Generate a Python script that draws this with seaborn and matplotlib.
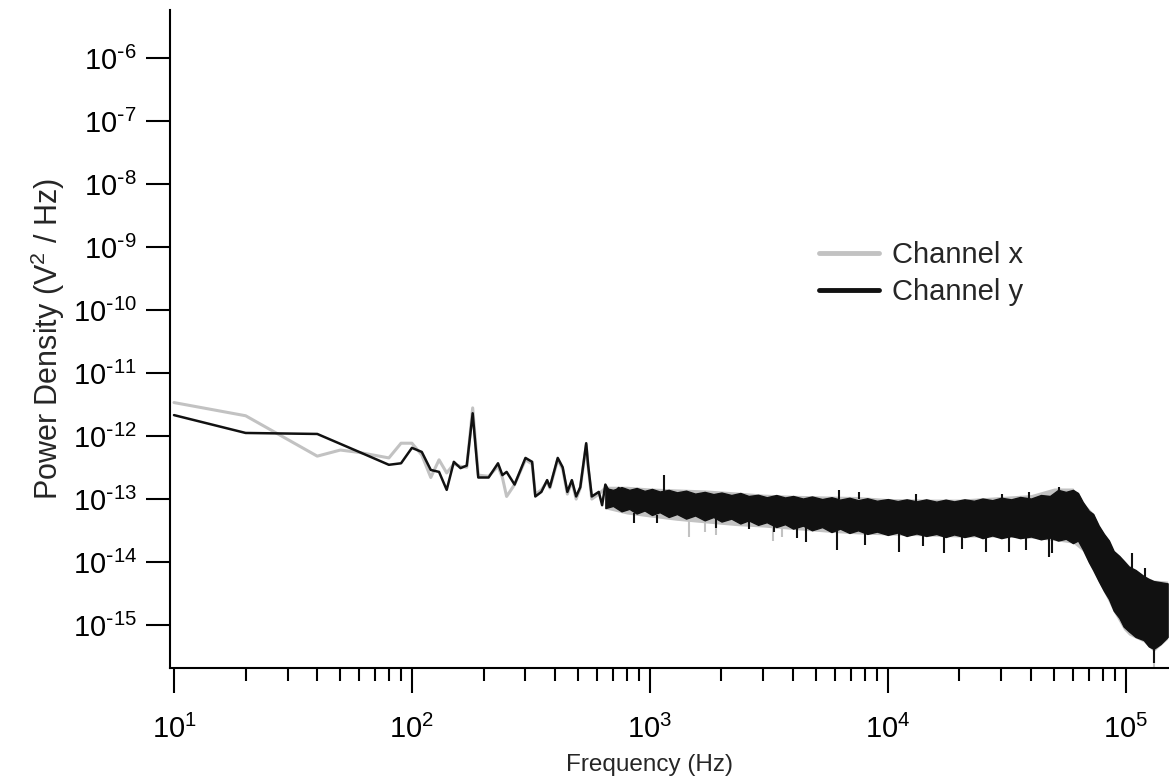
import matplotlib
matplotlib.use("Agg")
import matplotlib.pyplot as plt
import matplotlib.ticker as mticker
import numpy as np
import pandas as pd
import seaborn as sns

# low frequency part of the spectra (Hz, V^2/Hz)
freq_x_low = [10, 20, 40, 50, 60, 80, 90, 100, 110, 120, 130, 140, 150, 160, 170, 180, 190,
              210, 230, 240, 250, 270, 300, 320, 330, 350, 370, 380, 410, 430, 450, 470,
              490, 510, 540, 550, 570, 610, 650, 690, 740]
psd_x_low = [3.4e-12, 2.1e-12, 4.8e-13, 6.0e-13, 5.5e-13, 4.5e-13, 7.7e-13, 7.7e-13, 5.0e-13,
             2.2e-13, 4.2e-13, 2.6e-13, 3.6e-13, 3.3e-13, 3.2e-13, 2.8e-12, 2.4e-13,
             2.3e-13, 3.3e-13, 2.2e-13, 1.1e-13, 1.7e-13, 4.2e-13, 3.6e-13, 1.2e-13, 1.4e-13,
             1.9e-13, 1.5e-13, 4.2e-13, 3.0e-13, 1.2e-13, 1.9e-13, 1.0e-13, 1.5e-13, 7.2e-13,
             3.3e-13, 1.0e-13, 1.2e-13, 1.5e-13, 1.0e-13, 1.4e-13]

freq_y_low = [10, 20, 40, 60, 80, 90, 100, 110, 120, 130, 140, 150, 160, 170, 180, 190, 210,
              230, 240, 250, 270, 300, 320, 330, 350, 370, 380, 410, 430, 450, 470, 490,
              510, 540, 550, 570, 610, 630, 650, 690, 740]
psd_y_low = [2.15e-12, 1.12e-12, 1.08e-12, 5.6e-13, 3.5e-13, 3.7e-13, 6.5e-13, 5.6e-13,
             2.9e-13, 2.7e-13, 1.4e-13, 3.9e-13, 3.1e-13, 3.4e-13, 2.3e-12, 2.2e-13, 2.2e-13,
             3.7e-13, 2.4e-13, 2.7e-13, 1.7e-13, 4.5e-13, 3.9e-13, 1.1e-13, 1.3e-13, 2.0e-13,
             1.55e-13, 4.5e-13, 3.2e-13, 1.3e-13, 2.0e-13, 1.1e-13, 1.55e-13, 7.7e-13, 3.5e-13,
             1.1e-13, 1.3e-13, 8.0e-14, 1.7e-13, 1.1e-13, 1.5e-13]

# dense high frequency part of channel y: upper / lower edge of the noisy trace
band_y_freq = [650, 700, 760, 820, 880, 950, 1020, 1100, 1200, 1300, 1420, 1550, 1700, 1850,
               2000, 2200, 2400, 2600, 2850, 3100, 3400, 3700, 4000, 4400, 4800, 5300, 5800,
               6300, 6900, 7500, 8200, 9000, 10000, 11000, 12000, 13200, 14500, 16000, 17500,
               19000, 21000, 23000, 25000, 27500, 30000, 33000, 36000, 40000, 44000, 48000,
               52000, 56000, 60000, 63000, 66000, 70000, 73000, 77000, 81000, 85000, 89000,
               94000, 98000, 103000, 110000, 119000, 125000, 131000, 140000, 150000]
band_y_hi = [1.5e-13, 1.4e-13, 1.55e-13, 1.4e-13, 1.5e-13, 1.35e-13, 1.45e-13, 1.32e-13,
             1.4e-13, 1.28e-13, 1.36e-13, 1.22e-13, 1.3e-13, 1.2e-13, 1.27e-13, 1.16e-13,
             1.25e-13, 1.12e-13, 1.17e-13, 1.07e-13, 1.16e-13, 1.06e-13, 1.12e-13, 1.02e-13,
             1.1e-13, 1.0e-13, 1.07e-13, 9.8e-14, 1.05e-13, 9.6e-14, 1.03e-13, 9.4e-14,
             1.0e-13, 9.3e-14, 9.9e-14, 9.2e-14, 9.9e-14, 9.1e-14, 9.8e-14, 9.2e-14,
             9.9e-14, 9.4e-14, 1.02e-13, 9.6e-14, 1.05e-13, 9.9e-14, 1.08e-13, 1.02e-13,
             1.16e-13, 1.12e-13, 1.4e-13, 1.3e-13, 1.4e-13, 1.25e-13, 9.0e-14, 6.5e-14,
             5.8e-14, 3.8e-14, 2.8e-14, 2.2e-14, 1.5e-14, 1.25e-14, 1.05e-14, 8.5e-15,
             7.5e-15, 6.0e-15, 5.4e-15, 5.0e-15, 4.8e-15, 4.6e-15]
band_y_lo = [7.2e-14, 7.8e-14, 6.4e-14, 7.0e-14, 5.9e-14, 6.6e-14, 5.6e-14, 6.2e-14,
             5.2e-14, 5.8e-14, 4.9e-14, 5.5e-14, 4.6e-14, 5.2e-14, 4.4e-14, 4.9e-14,
             4.1e-14, 4.6e-14, 3.9e-14, 4.3e-14, 3.6e-14, 4.0e-14, 3.4e-14, 3.8e-14,
             3.2e-14, 3.6e-14, 3.0e-14, 3.4e-14, 2.9e-14, 3.2e-14, 2.8e-14, 3.05e-14,
             2.7e-14, 2.95e-14, 2.6e-14, 2.85e-14, 2.6e-14, 2.8e-14, 2.5e-14, 2.75e-14,
             2.5e-14, 2.7e-14, 2.4e-14, 2.65e-14, 2.4e-14, 2.6e-14, 2.4e-14, 2.55e-14,
             2.3e-14, 2.45e-14, 2.2e-14, 2.35e-14, 2.0e-14, 2.2e-14, 1.6e-14, 1.0e-14,
             7.5e-15, 5.0e-15, 3.5e-15, 2.6e-15, 1.7e-15, 1.3e-15, 9.5e-16, 8.0e-16,
             6.5e-16, 5.8e-16, 4.6e-16, 4.2e-16, 5.0e-16, 6.5e-16]

# channel x band, mostly hidden under channel y
band_x_freq = [650, 800, 1000, 1300, 1700, 2300, 3000, 4000, 5500, 7500, 10000, 15000, 20000,
               30000, 40000, 50000, 60000, 66000, 73000, 77000, 85000, 89000, 98000, 103000,
               119000, 125000, 131000, 150000]
band_x_hi = [1.6e-13, 1.6e-13, 1.5e-13, 1.45e-13, 1.4e-13, 1.3e-13, 1.2e-13, 1.15e-13,
             1.12e-13, 1.1e-13, 1.02e-13, 1.0e-13, 1.0e-13, 1.1e-13, 1.18e-13, 1.5e-13,
             1.5e-13, 9.0e-14, 6.0e-14, 3.8e-14, 2.2e-14, 1.5e-14, 1.1e-14, 9.0e-15, 6.2e-15,
             5.6e-15, 5.2e-15, 5.0e-15]
band_x_lo = [7.0e-14, 5.8e-14, 5.2e-14, 4.6e-14, 4.2e-14, 3.8e-14, 3.6e-14, 3.3e-14, 3.0e-14,
             2.8e-14, 2.7e-14, 2.6e-14, 2.5e-14, 2.5e-14, 2.4e-14, 2.2e-14, 2.0e-14, 1.5e-14,
             7.0e-15, 4.8e-15, 2.3e-15, 1.6e-15, 8.5e-16, 7.0e-16, 5.4e-16, 4.5e-16, 3.8e-16,
             6.0e-16]

# isolated spikes sticking out of the band (freq, from, to)
spike_y_freq = [857, 1070, 1145, 1900, 2600, 3320, 4150, 4520, 6100, 6230, 7550, 8000, 11100,
                13100, 14000, 17200, 20500, 25800, 30200, 32200, 38000, 39100, 47400, 48900,
                52200, 106000, 121000, 131000]
spike_y_from = [6.0e-14, 5.5e-14, 1.3e-13, 5.0e-14, 4.5e-14, 4.0e-14, 3.6e-14, 3.6e-14,
                3.1e-14, 1.0e-13, 1.0e-13, 3.0e-14, 2.9e-14, 9.0e-14, 2.8e-14, 2.8e-14,
                2.7e-14, 2.7e-14, 1.0e-13, 2.7e-14, 2.6e-14, 1.05e-13, 2.5e-14, 2.5e-14,
                1.3e-13, 8.0e-15, 5.7e-15, 4.2e-16]
spike_y_to = [4.2e-14, 4.2e-14, 2.4e-13, 3.5e-14, 3.3e-14, 3.0e-14, 2.4e-14, 2.1e-14,
              1.55e-14, 1.39e-13, 1.3e-13, 1.9e-14, 1.45e-14, 1.2e-13, 1.8e-14, 1.4e-14,
              1.6e-14, 1.45e-14, 1.2e-13, 1.45e-14, 1.55e-14, 1.3e-13, 1.2e-14, 1.4e-14,
              1.55e-13, 1.4e-14, 8.0e-15, 2.5e-16]
spike_x_freq = [1460, 1700, 1890, 3300, 3600, 131000]
spike_x_from = [5.2e-14, 5.0e-14, 4.8e-14, 4.2e-14, 4.0e-14, 4.0e-16]
spike_x_to = [2.5e-14, 3.0e-14, 2.7e-14, 2.2e-14, 2.5e-14, 2.0e-16]

GREY = "#c2c2c2"
BLACK = "#111111"

sns.set_theme(style="ticks")
plt.rcParams.update({
    "font.family": ["Liberation Sans", "DejaVu Sans"],
    "mathtext.default": "regular",
    "axes.unicode_minus": False,
    "axes.linewidth": 1.5,
    "axes.edgecolor": "black",
    "xtick.color": "black",
    "ytick.color": "black",
})


def decade_label(val, pos):
    e = int(round(np.log10(val)))
    if e < 0:
        return r"$10^{\text{-}%d}$" % (-e)
    return r"$10^{%d}$" % e


fig = plt.figure(figsize=(11.69, 7.81), dpi=100)
ax = fig.add_axes([170 / 1169, 1 - 668 / 781, 1 - 170 / 1169, (668 - 10) / 781])

low_x = pd.DataFrame({"freq": freq_x_low, "psd": psd_x_low})
low_y = pd.DataFrame({"freq": freq_y_low, "psd": psd_y_low})

# channel x (grey) underneath
ax.fill_between(band_x_freq, band_x_lo, band_x_hi, color=GREY, lw=0, zorder=1)
ax.vlines(spike_x_freq, spike_x_from, spike_x_to, color=GREY, lw=1.5, zorder=1)
sns.lineplot(data=low_x, x="freq", y="psd", ax=ax, color=GREY, lw=2.2,
             label="Channel x", zorder=2)

# channel y (black) on top
ax.fill_between(band_y_freq, band_y_lo, band_y_hi, color=BLACK, lw=1.0, zorder=3)
ax.vlines(spike_y_freq, spike_y_from, spike_y_to, color=BLACK, lw=1.5, zorder=3)
sns.lineplot(data=low_y, x="freq", y="psd", ax=ax, color=BLACK, lw=1.8,
             label="Channel y", zorder=4)

ax.set_xscale("log")
ax.set_yscale("log")
ax.set_xlim(9.62, 1.52e5)
ax.set_ylim(10 ** -15.68, 10 ** -5.24)

ax.yaxis.set_major_locator(mticker.LogLocator(base=10, numticks=30))
ax.yaxis.set_minor_locator(mticker.NullLocator())
ax.xaxis.set_major_locator(mticker.LogLocator(base=10, numticks=30))
ax.xaxis.set_minor_locator(mticker.LogLocator(base=10, subs=np.arange(2, 10), numticks=30))
ax.xaxis.set_major_formatter(mticker.FuncFormatter(decade_label))
ax.yaxis.set_major_formatter(mticker.FuncFormatter(decade_label))

ax.tick_params(axis="y", which="major", direction="out", length=17, width=1.5,
               pad=7, labelsize=21)
ax.tick_params(axis="x", which="major", direction="out", length=18, width=1.5,
               pad=16, labelsize=21)
ax.tick_params(axis="x", which="minor", direction="out", length=9, width=1.5)

sns.despine(ax=ax, top=True, right=True)
ax.grid(False)

ax.set_xlabel("Frequency (Hz)", fontsize=17.5, labelpad=6)
ax.xaxis.set_label_coords(480 / 999, -0.13)
ax.set_ylabel("Power Density (V$^{2}$ / Hz)", fontsize=22, labelpad=4)

leg = ax.legend(loc="upper left", bbox_to_anchor=(0.638, 0.666), frameon=False,
                fontsize=21, handlelength=2.05, handletextpad=0.45, labelspacing=0.3,
                borderaxespad=0)
for line in leg.get_lines():
    line.set_linewidth(3.5)

fig.savefig("out.png", dpi=100)
